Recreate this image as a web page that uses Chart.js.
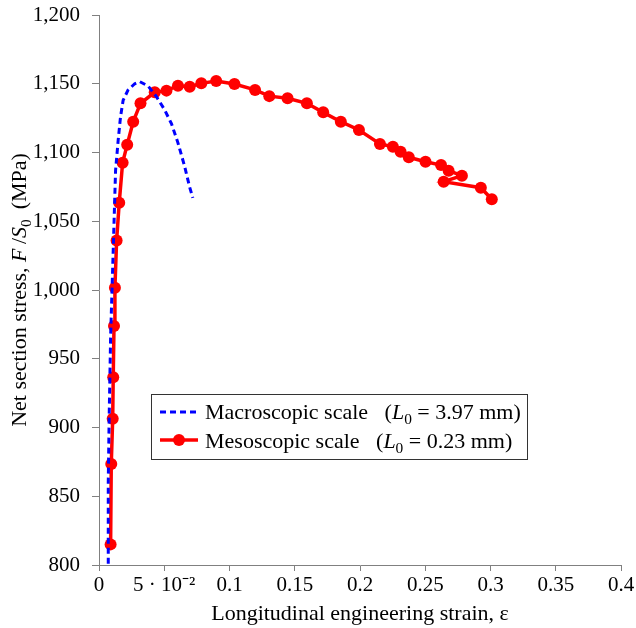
<!DOCTYPE html>
<html>
<head>
<meta charset="utf-8">
<script src="https://cdn.jsdelivr.net/npm/chart.js@4"></script>
<style>
html,body{margin:0;padding:0;background:#fff;}
#wrap{width:636px;height:628px;}
</style>
</head>
<body>
<div id="wrap"><canvas id="c" width="636" height="628"></canvas></div>
<script>
// ---- data ----
const macroStrain = [0.0071,0.0071,0.0078,0.0089,0.0109,0.0127,0.0147,0.0165,0.0185,0.0223,0.0274,0.0313,0.0376,0.0440,0.0503,0.0555,0.0605,0.0656,0.0694,0.0719];
const macroStress = [801,860,908,966,1029,1087,1109,1126,1138,1145.5,1150,1151.5,1148.4,1140.6,1131,1121,1107,1090,1075,1067];

const mesoStrain = [0.0089,0.0094,0.0105,0.0109,0.0115,0.0122,0.0135,0.0155,0.0181,0.0216,0.0262,0.0318,0.0427,0.0517,0.0605,0.0695,0.0784,0.0898,0.1038,0.1196,0.1305,0.1445,0.1593,0.1718,0.1853,0.1992,0.2153,0.2252,0.2311,0.2374,0.2502,0.2621,0.2679,0.2781,0.2641,0.2926,0.3010];
const mesoStress = [815,873.5,906.4,936.5,973.8,1001.7,1036,1063.5,1092.6,1105.7,1122.4,1135.8,1143.8,1145,1148.6,1147.8,1150.3,1152,1149.8,1145.5,1141,1139.4,1135.8,1129.2,1122.4,1116.4,1106.2,1104.2,1100.6,1096.5,1093.3,1090.9,1086.8,1083.1,1078.8,1074.4,1066];

const xTicks = [0,0.05,0.1,0.15,0.2,0.25,0.3,0.35,0.4];
const xTickLabels = ['0','5 · 10\u207B\u00B2','0.1','0.15','0.2','0.25','0.3','0.35','0.4'];
const yTicks = [800,850,900,950,1000,1050,1100,1150,1200];
const yTickLabels = ['800','850','900','950','1,000','1,050','1,100','1,150','1,200'];

const FONT = '"Liberation Serif","Times New Roman",serif';
const FS = 21;   // tick labels
const TS = 22;   // titles and legend

function toXY(xs, ys){ return xs.map((x,i)=>({x:x,y:ys[i]})); }

// rich text helper: segments {t, it, sub}
function segWidth(ctx, segs, size){
  let w=0;
  segs.forEach(s=>{
    const sz = s.sub ? size*0.7 : size;
    ctx.font = (s.it?'italic ':'') + sz + 'px ' + FONT;
    w += ctx.measureText(s.t).width;
  });
  return w;
}
function drawSegs(ctx, segs, x, y, size){
  let cx = x;
  ctx.textBaseline = 'alphabetic';
  ctx.textAlign = 'left';
  segs.forEach(s=>{
    const sz = s.sub ? size*0.7 : size;
    ctx.font = (s.it?'italic ':'') + sz + 'px ' + FONT;
    ctx.fillText(s.t, cx, s.sub ? y + size*0.22 : y);
    cx += ctx.measureText(s.t).width;
  });
}

const yTitle = [{t:'Net section stress, '},{t:'F',it:true},{t:'\u2009/'},{t:'S',it:true},{t:'0',sub:true},{t:'\u2009 (MPa)'}];
const xTitle = [{t:'Longitudinal engineering strain, \u03B5'}];
const leg1 = [{t:'Macroscopic scale   ('},{t:'L',it:true},{t:'0',sub:true},{t:' = 3.97 mm)'}];
const leg2 = [{t:'Mesoscopic scale   ('},{t:'L',it:true},{t:'0',sub:true},{t:' = 0.23 mm)'}];

const overlay = {
  id:'overlay',
  afterDraw(chart){
    const ctx = chart.ctx;
    const a = chart.chartArea;
    ctx.save();
    ctx.fillStyle = '#000';
    // x title
    let w = segWidth(ctx, xTitle, TS);
    drawSegs(ctx, xTitle, (a.left+a.right)/2 - w/2, 620, TS);
    // y title
    ctx.save();
    ctx.translate(26, (a.top+a.bottom)/2);
    ctx.rotate(-Math.PI/2);
    w = segWidth(ctx, yTitle, TS);
    drawSegs(ctx, yTitle, -w/2, 0, TS);
    ctx.restore();
    // legend
    const bx=151.5, by=394.5, bw=376, bh=65;
    ctx.fillStyle='#fff';
    ctx.fillRect(bx,by,bw,bh);
    ctx.strokeStyle='#333';
    ctx.lineWidth=1;
    ctx.strokeRect(bx,by,bw,bh);
    // row 1 sample
    ctx.strokeStyle='#0000ff';
    ctx.lineWidth=3;
    ctx.setLineDash([6,4]);
    ctx.beginPath(); ctx.moveTo(160,412); ctx.lineTo(196,412); ctx.stroke();
    ctx.setLineDash([]);
    // row 2 sample
    ctx.strokeStyle='#ff0000';
    ctx.lineWidth=3.5;
    ctx.beginPath(); ctx.moveTo(160,440); ctx.lineTo(198,440); ctx.stroke();
    ctx.fillStyle='#ff0000';
    ctx.beginPath(); ctx.arc(179,440,6,0,Math.PI*2); ctx.fill();
    ctx.fillStyle='#000';
    drawSegs(ctx, leg1, 205, 419, TS);
    drawSegs(ctx, leg2, 205, 448, TS);
    ctx.restore();
  }
};

new Chart(document.getElementById('c'), {
  type:'scatter',
  data:{
    datasets:[
      {label:'Macroscopic scale', data:toXY(macroStrain, macroStress), showLine:true,
       borderColor:'#0000ff', borderWidth:3, borderDash:[6,4], pointRadius:0, fill:false, tension:0},
      {label:'Mesoscopic scale', data:toXY(mesoStrain, mesoStress), showLine:true,
       borderColor:'#ff0000', borderWidth:3.5, pointRadius:6, pointBackgroundColor:'#ff0000',
       pointBorderWidth:0, pointHoverRadius:6, fill:false, tension:0}
    ]
  },
  options:{
    responsive:false,
    animation:false,
    devicePixelRatio:1,
    layout:{padding:{top:15,right:15,left:0,bottom:0}},
    plugins:{legend:{display:false},tooltip:{enabled:false}},
    scales:{
      x:{type:'linear', min:0, max:0.4,
        afterBuildTicks(s){ s.ticks = xTicks.map(v=>({value:v})); },
        afterFit(s){ s.height = 63; s.paddingLeft = 0; s.paddingRight = 0; },
        ticks:{callback:(v)=>{const i=xTicks.findIndex(t=>Math.abs(t-v)<1e-9); return i>=0?xTickLabels[i]:'';},
          color:'#000', font:{family:FONT,size:FS}, padding:2, maxRotation:0, autoSkip:false},
        grid:{drawOnChartArea:false, drawTicks:true, tickLength:6, color:'#808080'},
        border:{display:true,color:'#808080',width:1}
      },
      y:{type:'linear', min:800, max:1200,
        afterBuildTicks(s){ s.ticks = yTicks.map(v=>({value:v})); },
        afterFit(s){ s.width = 99; s.paddingTop = 0; s.paddingBottom = 0; },
        ticks:{callback:(v)=>{const i=yTicks.indexOf(v); return i>=0?yTickLabels[i]:'';},
          color:'#000', font:{family:FONT,size:FS}, padding:12, autoSkip:false},
        grid:{drawOnChartArea:false, drawTicks:true, tickLength:7, color:'#808080'},
        border:{display:true,color:'#808080',width:1}
      }
    }
  },
  plugins:[overlay]
});
</script>
</body>
</html>
